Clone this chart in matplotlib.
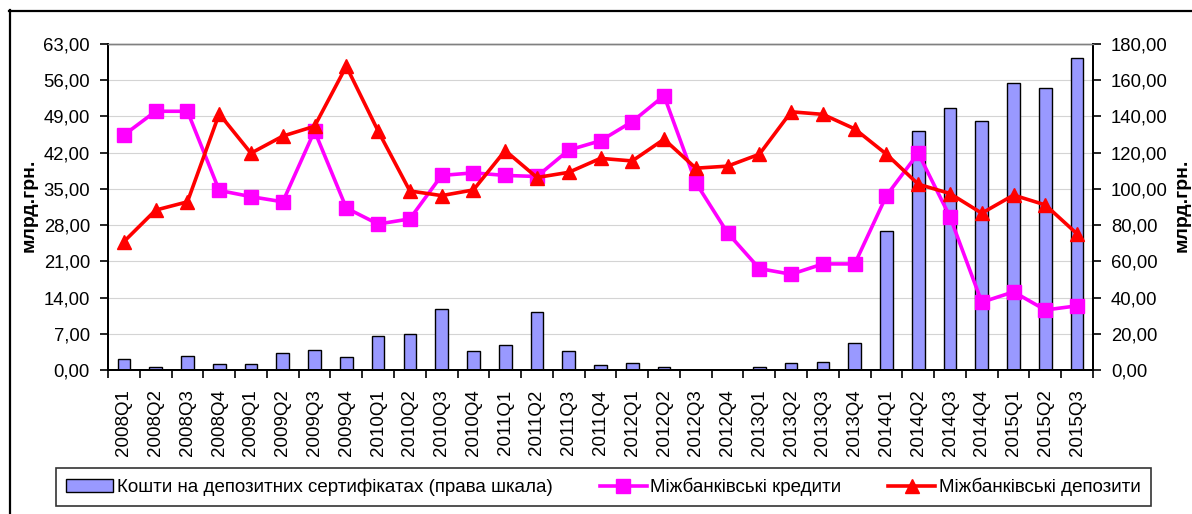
import numpy as np
import matplotlib
matplotlib.use('Agg')
import matplotlib.pyplot as plt
from matplotlib.lines import Line2D

plt.rcParams['font.family'] = ['Liberation Sans', 'DejaVu Sans']

quarters = ['2008Q1', '2008Q2', '2008Q3', '2008Q4', '2009Q1', '2009Q2', '2009Q3', '2009Q4',
            '2010Q1', '2010Q2', '2010Q3', '2010Q4', '2011Q1', '2011Q2', '2011Q3', '2011Q4',
            '2012Q1', '2012Q2', '2012Q3', '2012Q4', '2013Q1', '2013Q2', '2013Q3', '2013Q4',
            '2014Q1', '2014Q2', '2014Q3', '2014Q4', '2015Q1', '2015Q2', '2015Q3']

# депозитні сертифікати (права шкала)
certificates = [6.0, 1.8, 7.9, 3.5, 3.5, 9.6, 11.2, 7.0,
                19.0, 19.9, 33.7, 10.5, 14.0, 31.8, 10.5, 2.8,
                3.7, 1.8, 0.0, 0.0, 1.8, 3.7, 4.4, 14.7,
                76.8, 132.0, 144.5, 137.7, 158.5, 155.7, 172.1]
# міжбанківські кредити (ліва шкала)
credits = [45.4, 50.0, 50.0, 34.7, 33.5, 32.5, 46.2, 31.3,
           28.2, 29.2, 37.6, 38.1, 37.6, 37.4, 42.5, 44.3,
           48.0, 53.0, 36.2, 26.5, 19.6, 18.5, 20.5, 20.5,
           33.7, 41.9, 29.6, 13.1, 15.1, 11.6, 12.4]
# міжбанківські депозити (ліва шкала)
deposits = [24.8, 30.9, 32.5, 49.5, 41.9, 45.2, 47.1, 58.7,
            46.2, 34.6, 33.7, 34.8, 42.4, 37.2, 38.2, 40.9,
            40.4, 44.6, 39.0, 39.4, 41.7, 49.9, 49.4, 46.6,
            41.7, 35.9, 34.1, 30.3, 33.8, 31.9, 26.3]

left_ticks = np.arange(0, 64, 7)
right_ticks = np.arange(0, 181, 20)


def comma(v):
    return f'{v:.2f}'.replace('.', ',')


W, H = 1192, 514
fig = plt.figure(figsize=(W / 100, H / 100), dpi=100)
ax = fig.add_axes([108 / W, 1 - 370 / H, (1093 - 108) / W, (370 - 44) / H])
ax2 = ax.twinx()
ax.set_zorder(ax2.get_zorder() + 1)
ax.patch.set_visible(False)

x = np.arange(len(quarters))

# bars + grid on the right axis
ax2.set_ylim(0, 180)
ax2.set_yticks(right_ticks)
ax2.set_yticklabels([comma(v) for v in right_ticks])
ax2.yaxis.grid(True, color='#d4d4d4', lw=0.8)
ax2.set_axisbelow(True)
bars = ax2.bar(x, certificates, width=0.4, color='#9999FF', edgecolor='black', lw=1.0,
               label='Кошти на депозитних сертифікатах (права шкала)')

ax.plot(x, credits, color='#FF00FF', lw=2.6, marker='s', ms=9.5,
        label='Міжбанківські кредити')
ax.plot(x, deposits, color='#FF0000', lw=2.6, marker='^', ms=10.5,
        label='Міжбанківські депозити')

ax.set_xlim(-0.5, len(quarters) - 0.5)
ax.set_ylim(0, 63)
ax.set_yticks(left_ticks)
ax.set_yticklabels([comma(v) for v in left_ticks])

ax.set_xticks(x)
ax.set_xticklabels(quarters, rotation=90)
ax.set_xticks(np.arange(-0.5, len(quarters), 1), minor=True)
ax.tick_params(axis='x', which='major', length=0, pad=14, labelsize=13.5)
ax.tick_params(axis='x', which='minor', length=6, width=1.2)
ax.tick_params(axis='y', length=6, width=1.2, pad=7, labelsize=13.3)
ax2.tick_params(axis='y', length=6, width=1.2, pad=7, labelsize=13.3)

for a in (ax, ax2):
    for s in ('left', 'right', 'bottom'):
        a.spines[s].set_linewidth(1.4)
        a.spines[s].set_color('black')
    a.spines['top'].set_color('#808080')
    a.spines['top'].set_linewidth(1.0)

fig.text(29 / W, 1 - 205 / H, 'млрд.грн.', rotation=90, ha='center', va='center',
         fontsize=14, fontweight='bold')
fig.text(1182 / W, 1 - 205 / H, 'млрд.грн.', rotation=90, ha='center', va='center',
         fontsize=14, fontweight='bold')

handles = [bars,
           Line2D([], [], color='#FF00FF', lw=2.6, marker='s', ms=9.5),
           Line2D([], [], color='#FF0000', lw=2.6, marker='^', ms=10.5)]
labels = ['Кошти на депозитних сертифікатах (права шкала)', 'Міжбанківські кредити',
          'Міжбанківські депозити']
leg = fig.legend(handles, labels, loc='center', bbox_to_anchor=(603.5 / W, 1 - 487 / H),
                 ncol=3, fontsize=13.5, frameon=True, fancybox=False, handlelength=2.5,
                 handletextpad=0.2, columnspacing=2.5, borderpad=0.55, borderaxespad=0)
leg.get_frame().set_edgecolor('black')
leg.get_frame().set_linewidth(1.2)

# outer frame of the chart area (cut by image edges)
fig.add_artist(Line2D([9.5 / W, 9.5 / W], [0, 1 - 10 / H], color='black', lw=1.6))
fig.add_artist(Line2D([9 / W, 1], [1 - 10.5 / H, 1 - 10.5 / H], color='black', lw=1.6))

fig.savefig('out.png', dpi=100)
